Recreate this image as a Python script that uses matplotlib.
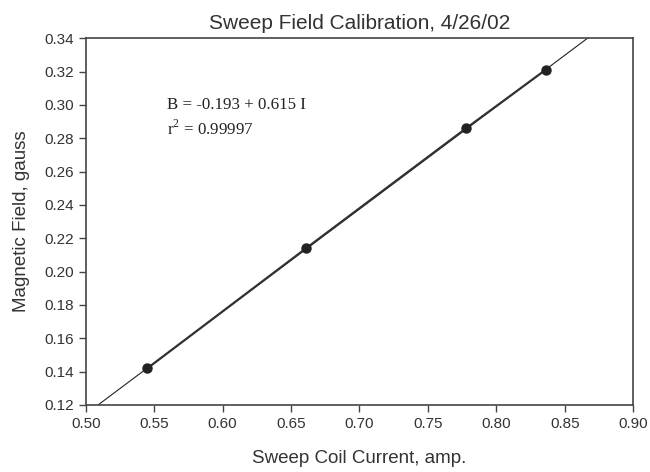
import numpy as np
import matplotlib
matplotlib.use('Agg')
import matplotlib.pyplot as plt

# sweep coil current (amp) and measured field (gauss)
current = [0.545, 0.661, 0.778, 0.836]
field = [0.142, 0.214, 0.286, 0.321]

# linear fit as printed on the chart
intercept = -0.193
slope = 0.615

x_ticks = [0.50, 0.55, 0.60, 0.65, 0.70, 0.75, 0.80, 0.85, 0.90]
y_ticks = [0.12, 0.14, 0.16, 0.18, 0.20, 0.22, 0.24, 0.26, 0.28, 0.30, 0.32, 0.34]

TEXT = '#333333'


def main():
    plt.rcParams['font.family'] = ['Liberation Sans', 'DejaVu Sans']
    plt.rcParams['mathtext.fontset'] = 'custom'
    plt.rcParams['mathtext.rm'] = 'Liberation Serif'
    fig = plt.figure(figsize=(6.5, 4.72), dpi=100)
    ax = fig.add_axes([0.132, 0.142, 0.842, 0.777])

    fit_x = np.array([0.45, 0.95])
    ax.plot(fit_x, intercept + slope * fit_x, color='#222222', lw=0.8)
    ax.plot(current, field, color='#333333', lw=1.6, marker='o',
            markersize=6.5, markerfacecolor='#222222', markeredgecolor='#222222')

    ax.set_xlim(0.50, 0.90)
    ax.set_ylim(0.12, 0.34)
    ax.set_xticks(x_ticks)
    ax.set_yticks(y_ticks)
    ax.set_xticklabels([f'{v:.2f}' for v in x_ticks])
    ax.set_yticklabels([f'{v:.2f}' for v in y_ticks])
    ax.tick_params(direction='out', length=5, width=1, colors='#444444',
                   labelcolor=TEXT, labelsize=11)
    ax.tick_params(axis='x', pad=4)
    for s in ax.spines.values():
        s.set_color('#444444')
        s.set_linewidth(1.2)

    ax.set_title('Sweep Field Calibration, 4/26/02', fontsize=15, color=TEXT, pad=7)
    ax.set_xlabel('Sweep Coil Current, amp.', fontsize=13.5, color=TEXT, labelpad=13)
    ax.set_ylabel('Magnetic Field, gauss', fontsize=13.5, color=TEXT, labelpad=10)

    ax.text(0.559, 0.300, 'B = -0.193 + 0.615 I', family=['Liberation Serif', 'DejaVu Serif'],
            fontsize=12.2, color='#222222', va='center')
    ax.text(0.559, 0.2855, r'r$^{\mathrm{2}}$ = 0.99997',
            family=['Liberation Serif', 'DejaVu Serif'],
            fontsize=12.2, color='#222222', va='center')

    fig.savefig('out.png', dpi=100)


if __name__ == '__main__':
    main()
